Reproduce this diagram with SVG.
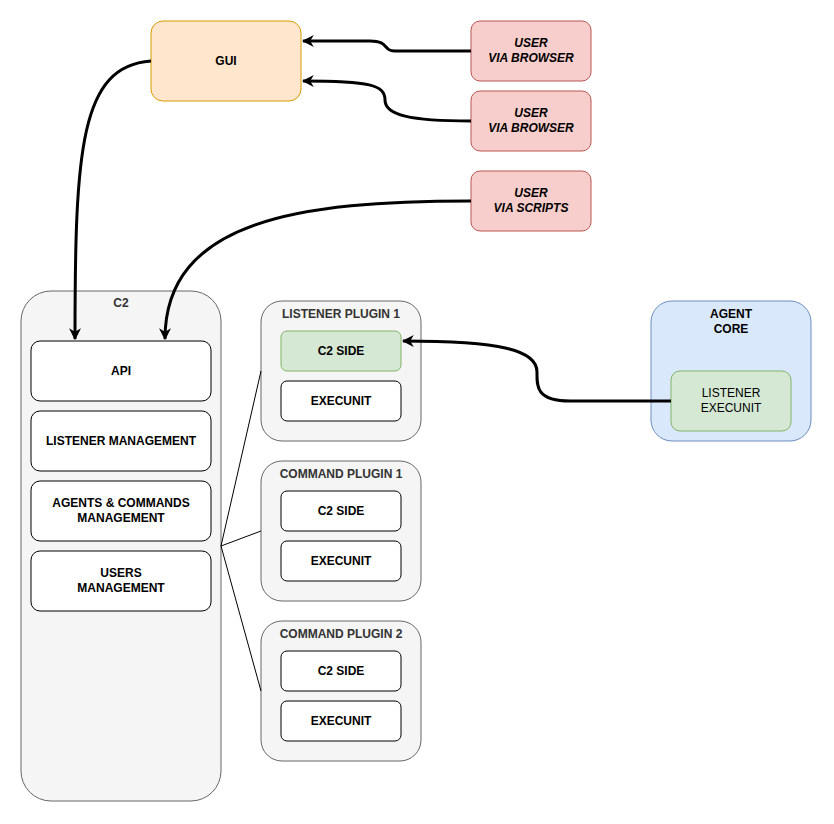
<svg xmlns="http://www.w3.org/2000/svg" width="834" height="824" viewBox="0 0 834 824">
<style>
text{font-family:"Liberation Sans",Arial,sans-serif;font-size:12px;font-weight:bold;text-anchor:middle;fill:#000}
.it{font-style:italic}
.t{fill:#333}
.w{fill:#fff;stroke:#000;stroke-width:1}
.g{fill:#f5f5f5;stroke:#666;stroke-width:1}
.u{fill:#f8cecc;stroke:#b85450}
.c{fill:none;stroke:#000;stroke-width:3}
.l{fill:none;stroke:#000;stroke-width:1}
</style>
<defs><marker id="a" viewBox="0 0 10 10" refX="9" refY="5" markerWidth="4" markerHeight="4" orient="auto" markerUnits="strokeWidth"><path d="M0,0 L10,5 L0,10 L3,5 Z" fill="#000"/></marker></defs>
<g id="gui"><rect x="151" y="21" width="150" height="80" rx="12" fill="#ffe6cc" stroke="#d79b00"/><text x="226" y="65">GUI</text></g>
<g id="user1"><rect class="u" x="471" y="21" width="120" height="60" rx="9"/><text class="it" x="531" y="47">USER</text><text class="it" x="531" y="62">VIA BROWSER</text></g>
<g id="user2"><rect class="u" x="471" y="91" width="120" height="60" rx="9"/><text class="it" x="531" y="117">USER</text><text class="it" x="531" y="132">VIA BROWSER</text></g>
<g id="user3"><rect class="u" x="471" y="171" width="120" height="60" rx="9"/><text class="it" x="531" y="197">USER</text><text class="it" x="531" y="212">VIA SCRIPTS</text></g>
<g id="c2"><rect class="g" x="21" y="291" width="200" height="510" rx="30"/><text class="t" x="121" y="307">C2</text>
<rect class="w" x="31" y="341" width="180" height="60" rx="9"/><text x="121" y="375">API</text>
<rect class="w" x="31" y="411" width="180" height="60" rx="9"/><text x="121" y="445">LISTENER MANAGEMENT</text>
<rect class="w" x="31" y="481" width="180" height="60" rx="9"/><text x="121" y="507">AGENTS &amp; COMMANDS</text><text x="121" y="522">MANAGEMENT</text>
<rect class="w" x="31" y="551" width="180" height="60" rx="9"/><text x="121" y="577">USERS</text><text x="121" y="592">MANAGEMENT</text></g>
<g id="lp1"><rect class="g" x="261" y="301" width="160" height="140" rx="21"/><text class="t" x="341" y="318">LISTENER PLUGIN 1</text>
<rect x="281" y="331" width="120" height="40" rx="6" fill="#d5e8d4" stroke="#82b366"/><text x="341" y="355">C2 SIDE</text>
<rect class="w" x="281" y="381" width="120" height="40" rx="6"/><text x="341" y="405">EXECUNIT</text></g>
<g id="cp1"><rect class="g" x="261" y="461" width="160" height="140" rx="21"/><text class="t" x="341" y="478">COMMAND PLUGIN 1</text>
<rect class="w" x="281" y="491" width="120" height="40" rx="6"/><text x="341" y="515">C2 SIDE</text>
<rect class="w" x="281" y="541" width="120" height="40" rx="6"/><text x="341" y="565">EXECUNIT</text></g>
<g id="cp2"><rect class="g" x="261" y="621" width="160" height="140" rx="21"/><text class="t" x="341" y="638">COMMAND PLUGIN 2</text>
<rect class="w" x="281" y="651" width="120" height="40" rx="6"/><text x="341" y="675">C2 SIDE</text>
<rect class="w" x="281" y="701" width="120" height="40" rx="6"/><text x="341" y="725">EXECUNIT</text></g>
<g id="agent"><rect x="651" y="301" width="160" height="140" rx="21" fill="#dae8fc" stroke="#6c8ebf"/><text x="731" y="318">AGENT</text><text x="731" y="333">CORE</text>
<rect x="671" y="371" width="120" height="60" rx="9" fill="#d5e8d4" stroke="#82b366"/><text x="731" y="397" style="font-weight:normal">LISTENER</text><text x="731" y="412" style="font-weight:normal">EXECUNIT</text></g>
<g id="connectors">
<path class="c" marker-end="url(#a)" d="M151,61 C80,66 75,150 75,339"/>
<path class="c" marker-end="url(#a)" d="M471,201 C300,201 165,220 165,339"/>
<path class="c" marker-end="url(#a)" d="M471,51 L395,51 C382,51 390,41 370,41 L303,41"/>
<path class="c" marker-end="url(#a)" d="M471,121 C410,121 385,115 385,100 C385,85 370,81 303,81"/>
<path class="c" marker-end="url(#a)" d="M671,401 L570,401 C535,401 537,385 537,372 C537,350 500,341 403,341"/>
<path class="l" d="M221,546 L261,371 M221,546 L261,531 M221,546 L261,691"/>
</g>
</svg>
